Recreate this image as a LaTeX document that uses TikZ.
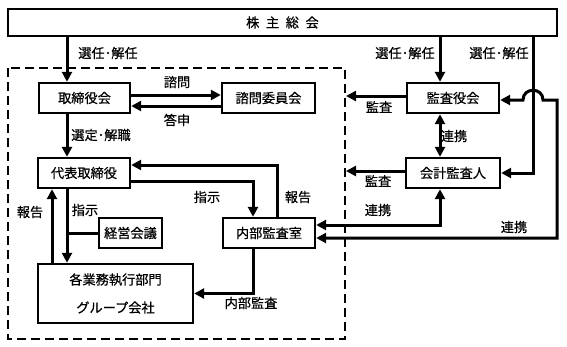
\documentclass[tikz,border=0pt]{standalone}
\usepackage{fontspec}
\setmainfont{Noto Sans CJK JP}[FakeBold=0.6]
\usetikzlibrary{positioning,arrows.meta,calc}

\begin{document}
\begin{tikzpicture}[x=1pt, y=-1pt, font=\fontsize{13.2}{15}\selectfont,
  box/.style={draw, line width=2.4pt, minimum height=30pt, inner sep=0pt},
  arr/.style={line width=3pt, -{Triangle[length=10pt,width=10pt]}},
  biarr/.style={line width=3pt, {Triangle[length=10pt,width=10pt]}-{Triangle[length=10pt,width=10pt]}},
  lbl/.style={inner sep=0pt}]
\useasboundingbox (0,0) rectangle (567,346);
% boxes
\node[box, minimum width=549pt, minimum height=27pt] (soukai) at (282.5,22.5) {株\enspace 主\enspace 総\enspace 会};
\node[box, minimum width=91pt] (torishimari) at (84.5,98) {取締役会};
\node[box, minimum width=93pt] (shimon) at (268.5,98) {諮問委員会};
\node[box, minimum width=92pt] (kansa) at (453,98) {監査役会};
\node[box, minimum width=92pt] (daihyo) at (84,173) {代表取締役};
\node[box, minimum width=94pt] (kaikei) at (453,173) {会計監査人};
\node[box, minimum width=92pt] (naibu) at (269,233) {内部監査室};
\node[box, minimum width=63pt] (keiei) at (130.5,233) {経営会議};
\node[box, minimum width=155pt, minimum height=59pt, align=center] (gyomu) at (115.5,293.5) {各業務執行部門\\[13pt]グループ会社};
% dashed boundary
\draw[line width=2.2pt, dash pattern=on 9pt off 5pt] (8,68) rectangle (345,339);
% columns
\coordinate (colA) at (67,0);
\coordinate (colB) at (52,0);
\coordinate (colC) at (277,0);
\coordinate (colD) at (253,0);
\coordinate (colE) at (440,0);
\coordinate (colF) at (533,0);
\coordinate (colG) at (557,0);
\coordinate (bnd) at (346,0);
\coordinate (hop) at (533,100);
% left side
\draw[arr] (soukai.south -| colA) -- (torishimari.north -| colA);
\node[lbl] (l-senA) at (108,53) {選任･解任};
\draw[arr] ([yshift=3pt]torishimari.east) -- ([yshift=3pt]shimon.west);
\node[lbl] (l-shimon) at (177,82) {諮問};
\draw[arr] ([yshift=-8pt]shimon.west) -- ([yshift=-8pt]torishimari.east);
\node[lbl] (l-toushin) at (177,120) {答申};
\draw[arr] (torishimari.south -| colA) -- (daihyo.north -| colA);
\node[lbl] (l-sentei) at (101,135) {選定･解職};
\draw[arr] (naibu.north -| colC) |- ([yshift=8pt]daihyo.east);
\node[lbl] (l-houkokuA) at (298,197) {報告};
\draw[arr] ([yshift=-8pt]daihyo.east) -| (naibu.north -| colD);
\node[lbl] (l-shijiA) at (207,197) {指示};
\draw[arr] (naibu.south -| colD) |- (gyomu.east);
\node[lbl] (l-naibu) at (251,303) {内部監査};
\draw[arr] (gyomu.north -| colB) -- (daihyo.south -| colB);
\node[lbl] (l-houkokuB) at (30,212) {報告};
\draw[arr] (daihyo.south -| colA) -- (gyomu.north -| colA);
\node[lbl] (l-shijiB) at (85,210) {指示};
\draw[line width=3pt] (keiei.west) -- (keiei.west -| colA);
% right side
\draw[arr] (soukai.south -| colE) -- (kansa.north -| colE);
\node[lbl] (l-senB) at (405,53) {選任･解任};
\draw[arr] (soukai.south -| colF) |- (kaikei.east);
\node[lbl] (l-senC) at (499,53) {選任･解任};
\draw[biarr] ([yshift=-5pt]naibu.east) -| (colG |- hop) -- ($(hop)+(10,0)$)
  .. controls ($(hop)+(10,-13)$) and ($(hop)+(-10,-13)$) .. ($(hop)+(-10,0)$)
  -- (kansa.east |- hop);
\node[lbl] (l-renkeiA) at (514,227) {連携};
\draw[biarr] (kansa.south -| colE) -- (kaikei.north -| colE);
\node[lbl] (l-renkeiB) at (454,136) {連携};
\draw[biarr] (kaikei.south -| colE) |- ([yshift=8pt]naibu.east);
\node[lbl] (l-renkeiC) at (378,210) {連携};
\draw[arr] ([yshift=2pt]kansa.west) -- ([yshift=2pt]kansa.west -| bnd);
\node[lbl] (l-kansaA) at (379,107) {監査};
\draw[arr] ([yshift=2pt]kaikei.west) -- ([yshift=2pt]kaikei.west -| bnd);
\node[lbl] (l-kansaB) at (378,181) {監査};
\end{tikzpicture}
\end{document}
